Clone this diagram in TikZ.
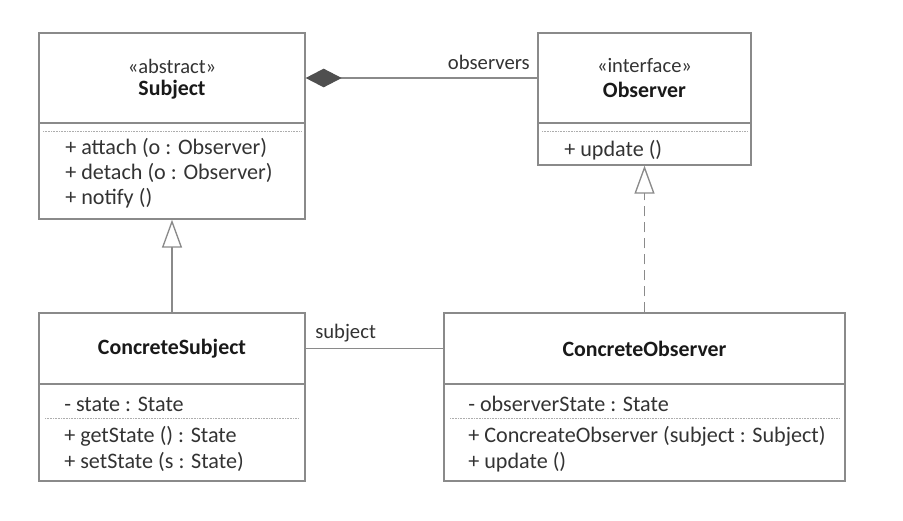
\documentclass[tikz,border=0pt]{standalone}
\usepackage{fontspec}
\setmainfont{Carlito}
\usetikzlibrary{arrows.meta,fit}
\definecolor{umlline}{HTML}{8A8A8A}
\definecolor{umltext}{HTML}{333333}
\definecolor{umlfill}{HTML}{4F4F4F}
\tikzset{
	classbox/.style={draw=umlline, line width=1pt, rectangle, inner sep=0pt},
	member/.style={anchor=west, inner sep=0pt, text=umltext, font=\fontsize{16.6}{19}\selectfont},
	classname/.style={inner sep=0pt, text=black!90, font=\fontsize{16.4}{19}\selectfont\bfseries},
	stereotype/.style={inner sep=0pt, text=umltext, font=\fontsize{15.4}{18}\selectfont},
	rolelabel/.style={inner sep=0pt, text=umltext, font=\fontsize{15.5}{18}\selectfont},
	sepline/.style={draw=umlline!70, line width=0.6pt, dash pattern=on 0.6pt off 0.6pt},
	umlconn/.style={draw=umlline, line width=1pt},
	inherits/.style={umlconn, -{Triangle[open, length=21pt, width=15pt, line width=1pt]}},
	realizes/.style={inherits, dash pattern=on 7.5pt off 4.5pt},
	composes/.style={umlconn, {Diamond[length=27pt, width=14pt, fill=umlfill, color=umlfill]}-}
}

\begin{document}
\begin{tikzpicture}[x=0.75pt, y=-0.75pt]
	%%%%% START %%%%%
	\useasboundingbox (0, 0) rectangle (903, 521);
	
	% Subject
	\node[classbox, fit={(39, 33) (305, 123)}] (subj) {};
	\node[classbox, fit={(39, 123) (305, 219)}] (subjops) {};
	\node[stereotype] (subjst) at (172, 66) {«abstract»};
	\node[classname] (subjname) at (172, 90) {Subject};
	\draw[sepline] (43, 131) -- (301, 131);
	\node[member] (attach) at (65, 148) {+ attach (o : Observer)};
	\node[member] (detach) at (65, 173) {+ detach (o : Observer)};
	\node[member] (notify) at (65, 198) {+ notify ()};
	
	% Observer
	\node[classbox, fit={(538, 33) (751, 123)}] (obs) {};
	\node[classbox, fit={(538, 123) (751, 165)}] (obsops) {};
	\node[stereotype] (obsst) at (644.5, 66) {«interface»};
	\node[classname] (obsname) at (644.5, 90) {Observer};
	\draw[sepline] (542, 131) -- (747, 131);
	\node[member] (obsupdate) at (564, 150) {+ update ()};
	
	% ConcreteSubject
	\node[classbox, fit={(39, 313) (305, 384)}] (csubj) {};
	\node[classbox, fit={(39, 384) (305, 481)}] (csubjbody) {};
	\node[classname] (csubjname) at (172, 349) {ConcreteSubject};
	\node[member] (state) at (64, 404) {- state : State};
	\draw[sepline] (45, 418) -- (299, 418);
	\node[member] (getstate) at (64, 436) {+ getState () : State};
	\node[member] (setstate) at (64, 462) {+ setState (s : State)};
	
	% ConcreteObserver
	\node[classbox, fit={(444, 313) (845, 384)}] (cobs) {};
	\node[classbox, fit={(444, 384) (845, 481)}] (cobsbody) {};
	\node[classname] (cobsname) at (644.5, 349) {ConcreteObserver};
	\node[member] (obsstate) at (468, 404) {- observerState : State};
	\draw[sepline] (450, 418) -- (840, 418);
	\node[member] (ctor) at (468, 436) {+ ConcreateObserver (subject : Subject)};
	\node[member] (cupdate) at (468, 462) {+ update ()};
	
	% relations
	\draw[composes] (subj.east) -- (obs.west);
	\node[rolelabel, anchor=east] (observers) at (530, 62) {observers};
	\draw[inherits] (csubj.north) -- (subjops.south);
	\draw[realizes] (cobs.north) -- (obsops.south);
	\draw[umlconn] (csubj.east) -- (cobs.west);
	\node[rolelabel, anchor=west] (subjectlbl) at (315, 333) {subject};
	
	%%%%% END %%%%%
\end{tikzpicture}
\end{document}
